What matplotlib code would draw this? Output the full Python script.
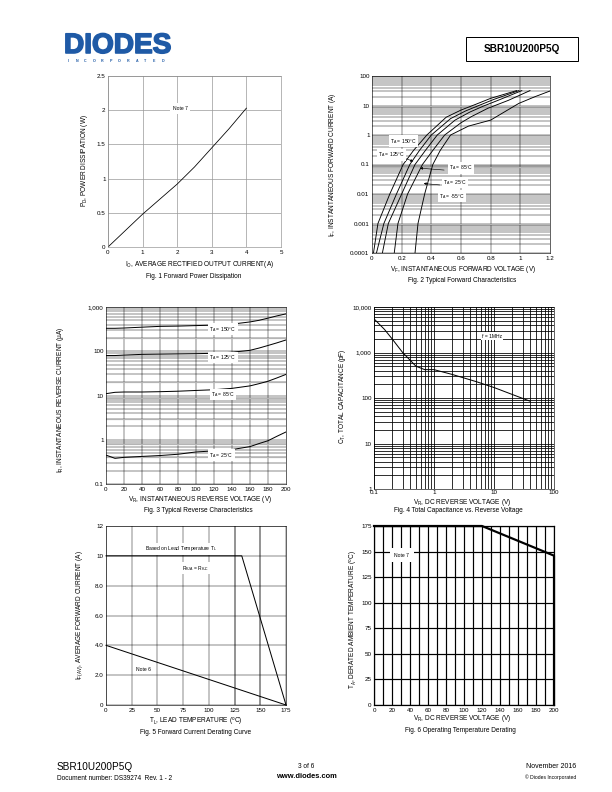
import numpy as np
import matplotlib
matplotlib.use('Agg')
import matplotlib.pyplot as plt
import matplotlib.patheffects as pe
from matplotlib.patches import Rectangle

plt.rcParams['font.family'] = ['Liberation Sans', 'DejaVu Sans']
plt.rcParams['mathtext.fontset'] = 'custom'
plt.rcParams['mathtext.rm'] = 'Liberation Sans'
plt.rcParams['mathtext.default'] = 'regular'

W, H = 612, 792
GRAY = '#b4b4b4'
BLUE = '#1f5aa6'

# Fig. 1 forward power dissipation
f1_io = [0, 0.5, 1, 1.5, 2, 2.5, 3, 3.5, 4]
f1_pd = [0, 0.24, 0.48, 0.70, 0.92, 1.17, 1.45, 1.73, 2.03]

# Fig. 2 typical forward characteristics (VF, IF) per temperature
f2_v150 = [0.01, 0.04, 0.12, 0.21, 0.28, 0.37, 0.5, 0.6, 0.7, 0.8, 0.975]
f2_i150 = [1e-4, 1e-3, 1e-2, 0.1, 0.3, 1, 4, 7, 11, 17.5, 32]
f2_v125 = [0.03, 0.08, 0.165, 0.255, 0.32, 0.40, 0.53, 0.63, 0.72, 0.82, 0.99]
f2_i125 = [1e-4, 1e-3, 1e-2, 0.1, 0.3, 1, 3.6, 6.5, 10, 16, 32]
f2_v85 = [0.07, 0.11, 0.20, 0.29, 0.36, 0.44, 0.56, 0.66, 0.75, 0.85, 1.01]
f2_i85 = [1e-4, 1e-3, 1e-2, 0.1, 0.3, 1, 3.2, 6, 9.5, 15, 32]
f2_v25 = [0.15, 0.175, 0.24, 0.34, 0.41, 0.49, 0.6, 0.67, 0.78, 0.92, 1.065]
f2_i25 = [1e-4, 1e-3, 1e-2, 0.1, 0.3, 1, 2.6, 4.2, 8, 15, 32]
f2_vm55 = [0.29, 0.31, 0.355, 0.41, 0.46, 0.53, 0.65, 0.8, 0.99, 1.1, 1.2]
f2_im55 = [1e-4, 1e-3, 1e-2, 0.1, 0.3, 1, 2.0, 3.2, 11.8, 20, 31]

# Fig. 3 typical reverse characteristics (uA)
f3_vr = [0, 10, 20, 40, 60, 80, 100, 120, 140, 160, 170, 180, 190, 200]
f3_i150 = [330, 330, 335, 350, 365, 370, 380, 390, 410, 460, 500, 560, 630, 700]
f3_i125 = [80, 80, 82, 85, 86, 87, 88, 90, 95, 105, 118, 135, 155, 180]
f3_i85 = [11, 11.8, 12, 12, 12.2, 12.5, 13, 13.5, 14.5, 16.5, 18.5, 21, 25, 30]
f3_i25 = [0.45, 0.38, 0.4, 0.42, 0.44, 0.47, 0.53, 0.56, 0.6, 0.7, 0.82, 0.95, 1.2, 1.5]

# Fig. 4 total capacitance vs reverse voltage
f4_vr = [0.1, 0.15, 0.2, 0.3, 0.5, 0.7, 1, 2, 5, 10, 20, 40]
f4_ct = [5500, 3200, 2000, 1000, 500, 420, 420, 330, 230, 170, 120, 85]

# Fig. 5 forward current derating
f5_t = [0, 132, 175]
f5_i = [10, 10, 0]
f5_t_note = [0, 175]
f5_i_note = [4, 0]

# Fig. 6 operating temperature derating
f6_vr = [0, 120, 200, 200]
f6_ta = [175, 175, 146, 0]

fig = plt.figure(figsize=(W / 72, H / 72), dpi=72)


def add_ax(l, t, r, b):
    return fig.add_axes([l / W, 1 - b / H, (r - l) / W, (b - t) / H])


def style(ax, lw=0.6, color='black'):
    ax.tick_params(length=0, labelsize=6.2, pad=2.5, which='both')
    for s in ax.spines.values():
        s.set_linewidth(lw)
        s.set_color(color)
    ax.set_axisbelow(True)


def ptext(x, y, s, size=6.5, rot=0, ha='center', weight='normal', color='black'):
    return fig.text(x / W, 1 - y / H, s, fontsize=size, rotation=rot, ha=ha,
                    va='center', weight=weight, color=color)


box = dict(facecolor='white', edgecolor='none', pad=1.2)

# header
t = ptext(64, 46, 'DIODES', size=28, ha='left', weight='bold', color=BLUE)
t.set_path_effects([pe.withStroke(linewidth=1.6, foreground=BLUE)])
for k, ch in enumerate('INCORPORATED'):
    ptext(68 + k * 8.6, 61, ch, size=3.6, weight='bold', color=BLUE)
fig.patches.append(Rectangle((466 / W, 1 - 61 / H), 112 / W, 24 / H, transform=fig.transFigure,
                             fill=False, lw=1.0, edgecolor='black'))
ptext(522, 49, 'SBR10U200P5Q', size=10, weight='bold')

# ---- Fig 1
ax = add_ax(108, 76, 281, 247)
style(ax, color='#888888')
ax.plot(f1_io, f1_pd, color='black', lw=0.8)
ax.set_xlim(0, 5)
ax.set_ylim(0, 2.5)
ax.set_xticks(range(6))
ax.set_yticks([0, 0.5, 1, 1.5, 2, 2.5])
ax.set_yticklabels(['0', '0.5', '1', '1.5', '2', '2.5'])
ax.grid(True, color='#999999', lw=0.7)
ax.text(2.08, 2.03, 'Note 7', fontsize=5, ha='center', va='center',
        bbox=dict(facecolor='white', edgecolor='none', boxstyle='square,pad=0.6'))
ptext(84, 161, r'P$_D$, POWER DISSIPATION (W)', rot=90)
ptext(200, 265, r'I$_O$, AVERAGE RECTIFIED OUTPUT CURRENT(A)')
ptext(194, 276, 'Fig. 1 Forward Power Dissipation')

# ---- Fig 2
ax = add_ax(372, 76, 550, 253)
style(ax)
ax.set_yscale('log')
ax.set_xlim(0, 1.2)
ax.set_ylim(1e-4, 100)
ax.set_xticks([0, 0.2, 0.4, 0.6, 0.8, 1, 1.2])
ax.set_xticklabels(['0', '0.2', '0.4', '0.6', '0.8', '1', '1.2'])
ax.set_yticks([1e-4, 1e-3, 1e-2, 0.1, 1, 10, 100])
ax.set_yticklabels(['0.0001', '0.001', '0.01', '0.1', '1', '10', '100'])
ax.yaxis.set_minor_formatter(plt.NullFormatter())
ax.grid(True, which='both', axis='y', color='black', lw=0.45)
for xv in [0.2, 0.8]:
    ax.axvline(xv, color='black', lw=0.45, zorder=0)
for xv in [0.4, 0.6, 1.0]:
    ax.axvline(xv, color=GRAY, lw=1.6, zorder=0)
for yv in [10, 0.001, 0.08]:
    ax.axhline(yv, color=GRAY, lw=1.3, zorder=0.6)
for vv, ii in [(f2_v150, f2_i150), (f2_v125, f2_i125), (f2_v85, f2_i85),
               (f2_v25, f2_i25), (f2_vm55, f2_im55)]:
    ax.plot(vv, ii, color='black', lw=0.9)
ax.text(0.214, 0.62, r'T$_A$ = 150°C', fontsize=5, ha='center', va='center', bbox=box)
ax.text(0.133, 0.21, r'T$_A$ = 125°C', fontsize=5, ha='center', va='center', bbox=box)
ax.text(0.6, 0.076, r'T$_A$ = 85°C', fontsize=5, ha='center', va='center', bbox=box)
ax.text(0.56, 0.025, r'T$_A$ = 25°C', fontsize=5, ha='center', va='center', bbox=box)
ax.text(0.54, 0.0085, r'T$_A$ = -55°C', fontsize=5, ha='center', va='center', bbox=box)
arr = dict(arrowstyle='-|>', color='black', lw=0.6, mutation_scale=5)
ax.annotate('', xy=(0.29, 0.12), xytext=(0.22, 0.166), arrowprops=arr)
ax.annotate('', xy=(0.31, 0.076), xytext=(0.50, 0.064), arrowprops=arr)
ax.annotate('', xy=(0.335, 0.023), xytext=(0.47, 0.02), arrowprops=arr)
ptext(333, 165, r'I$_F$, INSTANTANEOUS FORWARD CURRENT (A)', rot=90)
ptext(463, 270, r'V$_F$, INSTANTANEOUS FORWARD VOLTAGE (V)')
ptext(462, 280, 'Fig. 2 Typical Forward Characteristics')

# ---- Fig 3
ax = add_ax(106, 307, 286, 484)
style(ax)
ax.set_yscale('log')
ax.set_xlim(0, 200)
ax.set_ylim(0.1, 1000)
ax.set_xticks(range(0, 201, 20))
ax.set_yticks([0.1, 1, 10, 100, 1000])
ax.set_yticklabels(['0.1', '1', '10', '100', '1,000'])
ax.yaxis.set_minor_formatter(plt.NullFormatter())
ax.grid(True, which='both', axis='y', color='black', lw=0.45)
for xv in [20, 60, 80, 120, 140, 180]:
    ax.axvline(xv, color='black', lw=0.45, zorder=0)
for xv in [40, 100, 160]:
    ax.axvline(xv, color=GRAY, lw=1.6, zorder=0)
for yv in [200, 20, 9, 3, 0.8, 0.4]:
    ax.axhline(yv, color=GRAY, lw=1.2, zorder=0.6)
for ii in [f3_i150, f3_i125, f3_i85, f3_i25]:
    ax.plot(f3_vr, ii, color='black', lw=1.0)
ax.text(130, 316, r'T$_A$ = 150°C', fontsize=5, ha='center', va='center', bbox=box)
ax.text(130, 73, r'T$_A$ = 125°C', fontsize=5, ha='center', va='center', bbox=box)
ax.text(130, 10.7, r'T$_A$ = 85°C', fontsize=5, ha='center', va='center', bbox=box)
ax.text(128, 0.45, r'T$_A$ = 25°C', fontsize=5, ha='center', va='center', bbox=box)
ptext(60, 400, r'I$_R$, INSTANTANEOUS REVERSE CURRENT (µA)', rot=90)
ptext(200, 500, r'V$_R$, INSTANTANEOUS REVERSE VOLTAGE (V)')
ptext(198, 510, 'Fig. 3 Typical Reverse Characteristics')

# ---- Fig 4
ax = add_ax(374, 307, 554, 489)
style(ax)
ax.tick_params(axis='x', pad=1.5)
ax.set_xscale('log')
ax.set_yscale('log')
ax.set_xlim(0.1, 100)
ax.set_ylim(1, 10000)
ax.set_xticks([0.1, 1, 10, 100])
ax.set_xticklabels(['0.1', '1', '10', '100'])
ax.set_yticks([1, 10, 100, 1000, 10000])
ax.set_yticklabels(['1', '10', '100', '1,000', '10,000'])
ax.xaxis.set_minor_formatter(plt.NullFormatter())
ax.yaxis.set_minor_formatter(plt.NullFormatter())
ax.grid(True, which='both', color='black', lw=0.8)
ax.plot(f4_vr, f4_ct, color='black', lw=1.0)
ax.text(9.2, 2300, 'f = 1MHz', fontsize=5, ha='center', va='center', bbox=box)
ptext(343, 396, r'C$_T$, TOTAL CAPACITANCE (pF)', rot=90)
ptext(462, 502, r'V$_R$, DC REVERSE VOLTAGE (V)')
ptext(458, 511, 'Fig. 4 Total Capacitance vs. Reverse Voltage')

# ---- Fig 5
ax = add_ax(106, 526, 286, 705)
style(ax)
ax.set_xlim(0, 175)
ax.set_ylim(0, 12)
ax.set_xticks(range(0, 176, 25))
ax.set_yticks([0, 2, 4, 6, 8, 10, 12])
ax.set_yticklabels(['0', '2.0', '4.0', '6.0', '8.0', '10', '12'])
ax.grid(True, color='black', lw=0.45)
for xv in [125, 150]:
    ax.axvline(xv, color=GRAY, lw=1.6, zorder=0.5)
ax.plot(f5_t, f5_i, color='black', lw=1.0, clip_on=False)
ax.plot(f5_t_note, f5_i_note, color='black', lw=1.0, clip_on=False)
ax.text(73, 10.46, r'Based on Lead Temperature T$_L$', fontsize=5, ha='center', va='center', bbox=box)
ax.text(87.5, 9.18, r'R$_{\theta JA}$ = R$_{\theta JC}$', fontsize=5, ha='center', va='center', bbox=box)
ax.text(36, 2.41, 'Note 6', fontsize=5, ha='center', va='center', bbox=box)
ptext(80, 615, r'I$_{F(AV)}$, AVERAGE FORWARD CURRENT (A)', rot=90)
ptext(196, 722, r'T$_L$, LEAD TEMPERATURE ($^o$C)')
ptext(196, 733, 'Fig. 5 Forward Current Derating Curve')

# ---- Fig 6
ax = add_ax(374, 526, 554, 705)
style(ax, lw=1.2)
ax.set_xlim(0, 200)
ax.set_ylim(0, 175)
ax.set_xticks(range(0, 201, 20))
ax.set_xticks(range(0, 201, 10), minor=True)
ax.set_yticks(range(0, 176, 25))
ax.grid(True, which='both', color='black', lw=1.2)
ax.plot(f6_vr, f6_ta, color='black', lw=2.2, clip_on=False)
ax.text(31, 146.6, 'Note 7', fontsize=5, ha='center', va='center',
        bbox=dict(facecolor='white', edgecolor='none', boxstyle='square,pad=0.9'))
ptext(354, 620, r'T$_A$, DERATED AMBIENT TEMPERATURE ($^o$C)', rot=90)
ptext(462, 719, r'V$_R$, DC REVERSE VOLTAGE (V)')
ptext(460, 730, 'Fig. 6 Operating Temperature Derating')

# footer
ptext(57, 767, 'SBR10U200P5Q', size=10, ha='left')
ptext(57, 778, 'Document number: DS39274  Rev. 1 - 2', size=6.5, ha='left')
ptext(306, 766, '3 of 6', size=6.5)
ptext(306, 776, 'www.diodes.com', size=7.5, weight='bold')
ptext(576, 767, 'November 2016', size=7, ha='right')
ptext(576, 777, '© Diodes Incorporated', size=5, ha='right')

fig.savefig('out.png', dpi=72)
